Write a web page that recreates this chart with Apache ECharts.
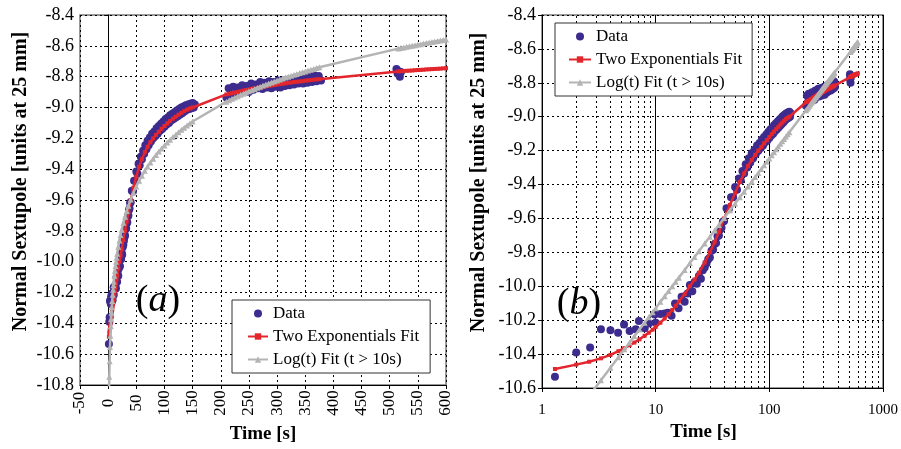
<!DOCTYPE html>
<html>
<head>
<meta charset="utf-8">
<script src="https://cdn.jsdelivr.net/npm/echarts@6.0.0/dist/echarts.min.js"></script>
<style>
  html, body { margin: 0; padding: 0; background: #fff; }
  #chart { width: 901px; height: 449px; }
</style>
</head>
<body>
<div id="chart"></div>
<script>
// measured data (time in s, normal sextupole in units)
const dataTime = [
  1.3, 2.0, 2.65, 3.3, 4.0, 4.67, 5.27, 5.9, 6.67, 7.12, 8.0, 8.7, 9.8, 10.0, 11.0, 12.0, 12.8, 13.8, 14.8, 15.9, 16.9, 18.0, 19.1,
  20, 21, 22, 23, 24, 25, 26, 27, 28, 29, 30, 31, 32, 33, 34, 35, 36, 37, 38, 39, 40,
  42, 44, 46, 48, 50, 52, 54, 56, 58, 60, 62, 64, 66, 68, 70, 72, 74, 76, 78, 80,
  82, 84, 86, 88, 90, 92, 94, 96, 98, 100, 102, 104, 106, 108, 110, 112, 114, 116, 118, 120,
  122, 124, 126, 128, 130, 132, 134, 136, 138, 140, 142, 144, 146, 148, 150, 152, 154,
  210, 214, 218, 222, 226, 230, 234, 238, 242, 246, 250, 254, 258, 262, 266, 270, 274, 278, 282, 286,
  290, 294, 298, 302, 306, 310, 314, 318, 322, 326, 330, 334, 338, 342, 346, 350, 354, 358, 362, 366,
  370, 374, 378,
  512, 514, 516, 518, 520
];
const dataValue = [
  -10.534, -10.39, -10.361, -10.254, -10.26, -10.274, -10.225, -10.264, -10.254, -10.205, -10.248, -10.219, -10.166, -10.215, -10.164, -10.16, -10.156, -10.174, -10.101, -10.13, -10.062, -10.091, -10.042,
  -9.993, -10.03, -9.975, -9.985, -9.94, -9.955, -9.905, -9.89, -9.865, -9.84, -9.83, -9.79, -9.785, -9.75, -9.745, -9.705, -9.70, -9.665, -9.655, -9.62, -9.615,
  -9.54, -9.545, -9.475, -9.475, -9.415, -9.43, -9.365, -9.375, -9.32, -9.335, -9.28, -9.30, -9.245, -9.27, -9.215, -9.245, -9.195, -9.22, -9.17, -9.20,
  -9.155, -9.185, -9.135, -9.17, -9.12, -9.15, -9.105, -9.14, -9.09, -9.125, -9.075, -9.11, -9.065, -9.10, -9.05, -9.085, -9.04, -9.075, -9.03, -9.065,
  -9.02, -9.055, -9.01, -9.045, -9.0, -9.035, -8.993, -9.025, -8.985, -9.015, -8.98, -9.01, -8.975, -9.005, -8.97, -9.0, -8.98,
  -8.935, -8.875, -8.915, -8.865, -8.91, -8.87, -8.9, -8.855, -8.895, -8.86, -8.9, -8.845, -8.885, -8.85, -8.875, -8.835, -8.88, -8.84, -8.87, -8.83,
  -8.875, -8.835, -8.865, -8.825, -8.87, -8.825, -8.86, -8.82, -8.855, -8.815, -8.85, -8.81, -8.845, -8.805, -8.845, -8.8, -8.84, -8.795, -8.835, -8.79,
  -8.83, -8.795, -8.825,
  -8.75, -8.78, -8.765, -8.8, -8.77
];

// times at which both fits are plotted
const fitTime = [
  1.3, 2, 2.6, 3.3, 4, 4.7, 5.3, 5.9, 6.5, 7.2, 8, 8.7, 9.4, 10,
  11, 12, 13, 14, 15, 16, 18, 20, 22, 24, 27, 30, 33, 36, 40,
  45, 50, 55, 60, 65, 70, 75, 80, 85, 90, 95,
  100, 105, 110, 115, 120, 125, 130, 135, 140, 145, 150,
  210, 215, 220, 225, 230, 235, 240, 245, 250, 255, 260, 265, 270, 275, 280, 285, 290,
  295, 300, 305, 310, 315, 320, 325, 330, 335, 340, 345, 350, 355, 360, 365, 370, 375,
  515, 520, 525, 530, 535, 540, 545, 550, 555, 560, 565, 570, 575, 580, 585, 590, 595, 600
];
const expFit = [
  -10.488, -10.462, -10.445, -10.425, -10.405, -10.383, -10.365, -10.348, -10.332, -10.313, -10.292, -10.274, -10.256, -10.24,
  -10.215, -10.19, -10.165, -10.14, -10.115, -10.09, -10.045, -10.0, -9.96, -9.92, -9.86, -9.80, -9.74, -9.68, -9.60,
  -9.52, -9.45, -9.385, -9.335, -9.29, -9.255, -9.225, -9.2, -9.178, -9.157, -9.138,
  -9.12, -9.103, -9.088, -9.073, -9.06, -9.047, -9.035, -9.024, -9.014, -9.006, -9.0,
  -8.915, -8.911, -8.907, -8.903, -8.899, -8.895, -8.891, -8.887, -8.883, -8.879, -8.876, -8.873, -8.869, -8.866, -8.863, -8.86, -8.857,
  -8.854, -8.851, -8.848, -8.846, -8.843, -8.84, -8.838, -8.835, -8.833, -8.831, -8.829, -8.826, -8.824, -8.822, -8.82, -8.818, -8.816,
  -8.766, -8.765, -8.763, -8.762, -8.761, -8.76, -8.758, -8.757, -8.756, -8.755, -8.753, -8.752, -8.751, -8.75, -8.749, -8.748, -8.746, -8.745
];
const logFit = [
  -10.911, -10.746, -10.646, -10.554, -10.48, -10.419, -10.372, -10.331, -10.294, -10.255, -10.215, -10.182, -10.153, -10.129,
  -10.092, -10.059, -10.028, -10.0, -9.974, -9.949, -9.904, -9.863, -9.827, -9.793, -9.748, -9.708, -9.671, -9.638, -9.597,
  -9.552, -9.512, -9.475, -9.442, -9.411, -9.383, -9.356, -9.332, -9.308, -9.286, -9.266,
  -9.246, -9.227, -9.209, -9.192, -9.176, -9.16, -9.145, -9.131, -9.117, -9.104, -9.091,
  -8.962, -8.953, -8.944, -8.935, -8.927, -8.918, -8.91, -8.902, -8.895, -8.887, -8.88, -8.872, -8.865, -8.858, -8.851, -8.844, -8.838,
  -8.831, -8.825, -8.818, -8.812, -8.806, -8.8, -8.794, -8.788, -8.782, -8.777, -8.771, -8.766, -8.76, -8.755, -8.75, -8.744, -8.739,
  -8.618, -8.614, -8.61, -8.606, -8.603, -8.599, -8.596, -8.592, -8.589, -8.585, -8.582, -8.579, -8.575, -8.572, -8.569, -8.565, -8.562, -8.559
];

// minor gridlines of the log time axis
const logMinorTicks = [2, 3, 4, 5, 6, 7, 8, 9, 20, 30, 40, 50, 60, 70, 80, 90, 200, 300, 400, 500, 600, 700, 800, 900];

const serif = 'Liberation Serif';
const dataColor = '#3d2b8e';
const expColor = '#e3262d';
const logColor = '#b4b4b4';
const dotted = [2, 3];

function pairs(xs, ys) {
  return xs.map((x, i) => [x, ys[i]]);
}
const dataPts = pairs(dataTime, dataValue);
const expPts = pairs(fitTime, expFit);
const logPts = pairs(fitTime, logFit);

function yAxisFor(gridIndex, min, gap, shift) {
  return {
    type: 'value', gridIndex: gridIndex, min: min, max: -8.4, interval: 0.2,
    name: 'Normal Sextupole [units at 25 mm]', nameLocation: 'middle', nameGap: gap,
    nameTextStyle: { fontFamily: serif, fontWeight: 'bold', fontSize: 20, color: '#000', padding: [0, 0, 0, shift] },
    axisLine: { show: true, lineStyle: { color: '#000', width: 1 } },
    axisTick: { show: true, length: 4, lineStyle: { color: '#000' } },
    axisLabel: { fontFamily: serif, fontSize: 18, color: '#000', margin: 6, formatter: v => v.toFixed(1) },
    splitLine: { show: true, lineStyle: { color: '#000', type: dotted, width: 1 } }
  };
}

function legendAt(left, top, pad, iw) {
  return {
    data: [{ name: 'Data', icon: 'circle' }, 'Two Exponentials Fit', 'Log(t) Fit (t > 10s)'],
    orient: 'vertical', left: left, top: top, padding: pad,
    itemGap: 6, itemWidth: iw, itemHeight: 8,
    borderColor: '#333', borderWidth: 1, backgroundColor: '#fff',
    textStyle: { fontFamily: serif, fontSize: 17, color: '#000' }
  };
}

function seriesFor(k, extra) {
  return [
    Object.assign({
      name: 'Data', type: 'scatter', xAxisIndex: k, yAxisIndex: k, data: dataPts,
      symbol: 'circle', symbolSize: 8, itemStyle: { color: dataColor, opacity: 1 }, z: 2
    }, extra || {}),
    {
      name: 'Two Exponentials Fit', type: 'line', xAxisIndex: k, yAxisIndex: k, data: expPts,
      symbol: 'rect', symbolSize: 4, showSymbol: true,
      lineStyle: { color: expColor, width: 2.5 }, itemStyle: { color: expColor }, z: 3
    },
    {
      name: 'Log(t) Fit (t > 10s)', type: 'line', xAxisIndex: k, yAxisIndex: k, data: logPts,
      symbol: 'triangle', symbolSize: 6, showSymbol: true,
      lineStyle: { color: logColor, width: 2.5 }, itemStyle: { color: logColor }, z: 4
    }
  ];
}

const chart = echarts.init(document.getElementById('chart'));
const option = {
  animation: false,
  backgroundColor: '#fff',
  grid: [
    { left: 80, top: 15, width: 366, height: 376, show: true, borderColor: '#777', borderWidth: 1.5 },
    { left: 542, top: 15, width: 345, height: 373, show: true, borderColor: '#777', borderWidth: 1.5 }
  ],
  xAxis: [
    {
      type: 'value', gridIndex: 0, min: -50, max: 600, interval: 50,
      name: 'Time [s]', nameLocation: 'middle', nameGap: 40,
      nameTextStyle: { fontFamily: serif, fontWeight: 'bold', fontSize: 19, color: '#000' },
      axisLine: { show: true, onZero: false, lineStyle: { color: '#000', width: 1 } },
      axisTick: { show: true, length: 4, lineStyle: { color: '#000' } },
      axisLabel: { fontFamily: serif, fontSize: 17, color: '#000', rotate: 90, align: 'center', verticalAlign: 'middle', margin: 18 },
      splitLine: { show: true, lineStyle: { color: '#000', type: dotted, width: 1 } }
    },
    {
      type: 'log', logBase: 10, gridIndex: 1, min: 1, max: 1000,
      name: 'Time [s]', nameLocation: 'middle', nameGap: 25,
      nameTextStyle: { fontFamily: serif, fontWeight: 'bold', fontSize: 19, color: '#000', padding: [0, 18, 0, 0] },
      axisLine: { show: true, onZero: false, lineStyle: { color: '#000', width: 1 } },
      axisTick: { show: true, length: 4, lineStyle: { color: '#000' } },
      axisLabel: { fontFamily: serif, fontSize: 15, color: '#000', margin: 15, formatter: v => String(Math.round(v)) },
      splitLine: { show: true, lineStyle: { color: '#000', type: 'solid', width: 1 } }
    }
  ],
  yAxis: [yAxisFor(0, -10.8, 49, 37), yAxisFor(1, -10.6, 53, 38)],
  legend: [legendAt(232, 300, [5, 11, 5, 15], 20), legendAt(555, 23, [5, 10, 5, 13], 22)],
  series: seriesFor(0).concat(seriesFor(1, {
    markLine: {
      silent: true, symbol: 'none', z: 1, animation: false,
      label: { show: false },
      lineStyle: { color: '#000', type: dotted, width: 1 },
      data: logMinorTicks.map(v => ({ xAxis: v }))
    }
  })),
  graphic: [
    {
      type: 'text', x: 158, y: 301,
      style: {
        text: '{p|(}{i|a}{p|)}', align: 'center', verticalAlign: 'middle', fill: '#000',
        rich: { p: { fontFamily: serif, fontSize: 38 }, i: { fontFamily: serif, fontStyle: 'italic', fontSize: 38 } }
      }
    },
    {
      type: 'text', x: 579, y: 304,
      style: {
        text: '{p|(}{i|b}{p|)}', align: 'center', verticalAlign: 'middle', fill: '#000',
        rich: { p: { fontFamily: serif, fontSize: 38 }, i: { fontFamily: serif, fontStyle: 'italic', fontSize: 38 } }
      }
    }
  ]
};
option && chart.setOption(option);
</script>
</body>
</html>
